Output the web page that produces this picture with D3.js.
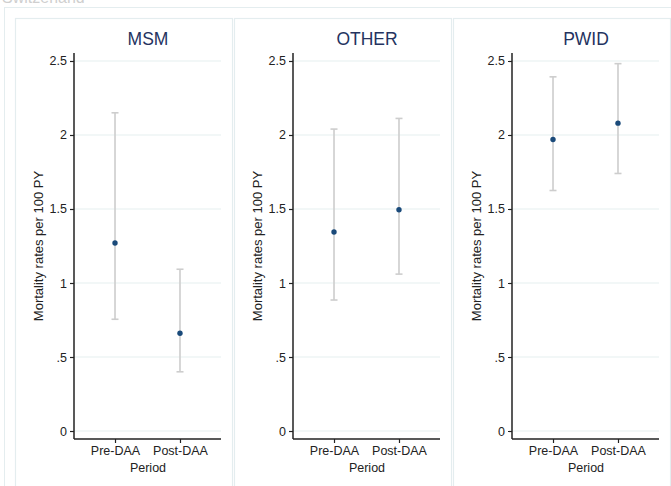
<!DOCTYPE html>
<html><head><meta charset="utf-8">
<script src="https://cdn.jsdelivr.net/npm/d3@7"></script>
<style>html,body{margin:0;padding:0;background:#fff;overflow:hidden}</style>
</head><body>
<svg id="c" width="671" height="486"></svg>
<script>
const groups = ["MSM", "OTHER", "PWID"];
const periods = ["Pre-DAA", "Post-DAA"];
const rates = [[1.27, 0.66], [1.345, 1.495], [1.97, 2.08]];
const lower = [[0.755, 0.40], [0.885, 1.06], [1.625, 1.74]];
const upper = [[2.15, 1.093], [2.04, 2.112], [2.393, 2.482]];
const yTicks = [0, 0.5, 1, 1.5, 2, 2.5];
const yTitle = "Mortality rates per 100 PY";
const xTitle = "Period";
const topText = "Switzerland";

const svg = d3.select("#c");
const font = "'Liberation Sans', Arial, sans-serif";
const frameCol = "#e4edef";
const gridCol = "#e6eff0";

svg.append("rect").attr("width", 671).attr("height", 486).attr("fill", "#fff");
svg.append("text").attr("x", 2).attr("y", 2.5).attr("font-family", font).attr("font-size", 16)
  .attr("fill", "#cfcfcf").text(topText);
// outer frame
svg.append("rect").attr("x", 4.5).attr("y", 7.5).attr("width", 680).attr("height", 500)
  .attr("fill", "none").attr("stroke", frameCol).attr("stroke-width", 1);

const panelX = d3.scaleLinear().domain([0, 1]).range([0, 219]);
const y = d3.scaleLinear().domain([-0.054, 2.554]).range([439, 53]);

groups.forEach((g, gi) => {
  const ox = panelX(gi);
  const p = svg.append("g").attr("transform", `translate(${ox},0)`);
  // panel frame
  p.append("rect").attr("x", 15.5).attr("y", 18.5).attr("width", 217).attr("height", 480)
    .attr("fill", "#fff").attr("stroke", frameCol).attr("stroke-width", 1.2);
  const x = d3.scaleLinear().domain([0.369, 2.631]).range([74, 221]);
  // gridlines
  p.append("g").selectAll("line").data(yTicks).join("line")
    .attr("x1", 74).attr("x2", 221)
    .attr("y1", d => y(d)).attr("y2", d => y(d))
    .attr("stroke", gridCol).attr("stroke-width", 1.2);
  // title
  p.append("text").attr("x", 148).attr("y", 45).attr("text-anchor", "middle")
    .attr("font-family", font).attr("font-size", 17.5).attr("fill", "#24335f").text(g);
  // y axis
  const ya = p.append("g").attr("transform", "translate(74,0)")
    .call(d3.axisLeft(y).tickValues(yTicks).tickSize(4).tickPadding(3)
      .tickFormat(d => d === 0 ? "0" : String(d).replace(/^0\./, ".")));
  ya.select(".domain").attr("stroke", "#222").attr("stroke-width", 1.5).attr("d", `M0,${y.range()[1]}V${y.range()[0]}`);
  ya.selectAll(".tick line").attr("stroke", "#222").attr("stroke-width", 1.2);
  ya.selectAll("text").attr("font-family", font).attr("font-size", 12.5).attr("fill", "#222");
  // x axis
  const xa = p.append("g").attr("transform", "translate(0,439)")
    .call(d3.axisBottom(x).tickValues([1, 2]).tickSize(4).tickPadding(3)
      .tickFormat(i => periods[i - 1]));
  xa.select(".domain").attr("stroke", "#222").attr("stroke-width", 1.5).attr("d", `M74,0H221`);
  xa.selectAll(".tick line").attr("stroke", "#222").attr("stroke-width", 1.2);
  xa.selectAll("text").attr("font-family", font).attr("font-size", 12.5).attr("fill", "#222");
  // axis titles
  p.append("text").attr("x", 148).attr("y", 471.5).attr("text-anchor", "middle")
    .attr("font-family", font).attr("font-size", 12.5).attr("fill", "#222").text(xTitle);
  p.append("text").attr("transform", `translate(42.5,246) rotate(-90)`).attr("text-anchor", "middle")
    .attr("font-family", font).attr("font-size", 13).attr("fill", "#222").text(yTitle);
  // error bars
  const rows = periods.map((per, i) => ({ i: i + 1, v: rates[gi][i], lo: lower[gi][i], hi: upper[gi][i] }));
  const eb = p.append("g");
  eb.selectAll("line.v").data(rows).join("line").attr("class", "v")
    .attr("x1", d => x(d.i)).attr("x2", d => x(d.i)).attr("y1", d => y(d.lo)).attr("y2", d => y(d.hi))
    .attr("stroke", "#cdcdcd").attr("stroke-width", 1.6);
  ["lo", "hi"].forEach(k => {
    eb.selectAll("line.c" + k).data(rows).join("line").attr("class", "c" + k)
      .attr("x1", d => x(d.i) - 3.5).attr("x2", d => x(d.i) + 3.5)
      .attr("y1", d => y(d[k])).attr("y2", d => y(d[k]))
      .attr("stroke", "#cdcdcd").attr("stroke-width", 1.6);
  });
  eb.selectAll("circle").data(rows).join("circle")
    .attr("cx", d => x(d.i)).attr("cy", d => y(d.v)).attr("r", 2.7).attr("fill", "#1a4a7a");
});
</script>
</body></html>
